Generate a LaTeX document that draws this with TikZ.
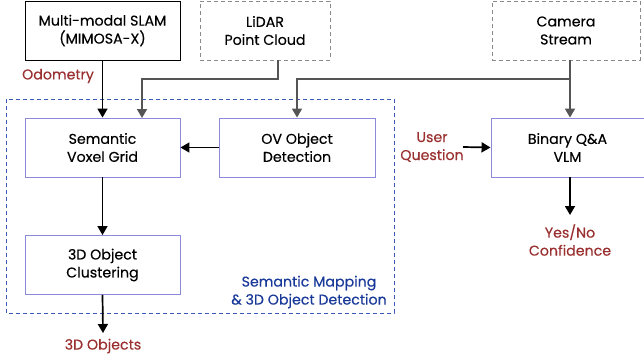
\documentclass[tikz,border=0pt]{standalone}
\usepackage{fontspec}
\setmainfont{Poppins}[FakeBold=0.3]
\usetikzlibrary{arrows.meta}
\definecolor{boxblue}{HTML}{8A8AD8}
\definecolor{regblue}{HTML}{3A58B8}
\definecolor{lbl}{HTML}{9A3030}
\definecolor{tblue}{HTML}{1A3A9A}
\definecolor{arrgray}{HTML}{555555}
\definecolor{dgray}{HTML}{8A8A8A}
\begin{document}
\begin{tikzpicture}[x=1pt,y=-1pt,
  font=\fontsize{14.2}{18}\selectfont,
  every node/.style={inner sep=0pt, align=center},
  blk/.style={draw=boxblue, line width=0.9pt, minimum width=155pt, minimum height=59pt},
  solidbox/.style={draw=black, line width=0.9pt, minimum width=155pt, minimum height=59pt},
  dbox/.style={draw=dgray, dashed, dash pattern=on 4pt off 3pt, line width=0.9pt, minimum height=59pt},
  lab/.style={text=lbl},
  arr/.style={-{Triangle[width=10pt,length=9pt]}, line width=1.7pt, black},
  garr/.style={-{Triangle[width=10pt,length=9pt]}, line width=1.7pt, arrgray}]
\useasboundingbox (0,0) rectangle (644,360);
% region
\draw[regblue, dashed, dash pattern=on 4pt off 3pt, line width=0.8pt] (6,99) rectangle (394,313);
\node[text=tblue] (reglab) at (309,292) {Semantic Mapping\\\& 3D Object Detection};
% boxes
\node[solidbox] (slam) at (102.5,30.5) {Multi-modal SLAM\\(MIMOSA-X)};
\node[dbox, minimum width=130pt] (lidar) at (265,30.5) {LiDAR\\Point Cloud};
\node[dbox, minimum width=148pt] (cam) at (566,30.5) {Camera\\Stream};
\node[blk] (vox) at (102.5,147.5) {Semantic\\Voxel Grid};
\node[blk, minimum width=156pt] (ov) at (297,147.5) {OV Object\\Detection};
\node[blk] (clu) at (102.5,265) {3D Object\\Clustering};
\node[blk, minimum width=153pt] (vlm) at (567.5,147.5) {Binary Q\&A\\VLM};
% labels
\node[lab] (odo) at (58,76) {Odometry};
\node[lab] (obj) at (103,346) {3D Objects};
\node[lab] (uq) at (432,147) {User\\Question};
\node[lab] (yn) at (570,240) {Yes/No\\Confidence};
\coordinate (lidj) at (278,79);
\coordinate (camj) at (570,79);
% arrows
\draw[arr] (slam.south) -- (vox.north);
\draw[garr] (lidar.south -| lidj) -- (lidj) -- (142,79) -- (142,118);
\draw[garr] (cam.south -| camj) -- (vlm.north -| camj);
\draw[garr] (camj) -- (297,79) -- (ov.north);
\draw[arr] (ov.west) -- (vox.east);
\draw[arr] (vox.south) -- (clu.north);
\draw[arr] (clu.south) -- (103,333);
\draw[arr] (463,147) -- (vlm.west);
\draw[arr] (vlm.south -| camj) -- (570,215);
\end{tikzpicture}
\end{document}
